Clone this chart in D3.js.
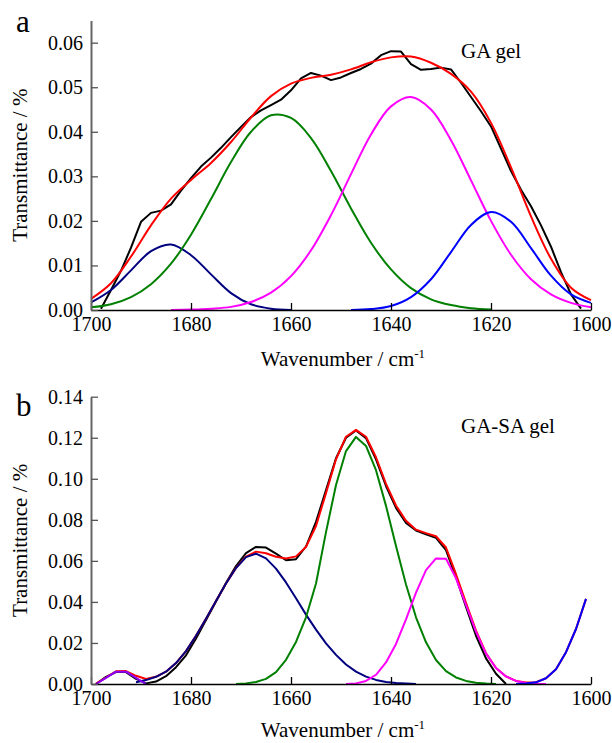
<!DOCTYPE html>
<html>
<head>
<meta charset="utf-8">
<script src="https://cdn.jsdelivr.net/npm/d3@7"></script>
<style>
    body { margin: 0; background: #fff; }
    svg text { font-family: "Liberation Serif", "DejaVu Serif", serif; fill: #000; }
    .line { fill: none; stroke-width: 2; stroke-linejoin: round; }
</style>
</head>
<body>
<svg id="chart" width="612" height="743"></svg>
<script>
// ---------- data ----------
const xTicks = [1700, 1680, 1660, 1640, 1620, 1600];
const yTicksA = [0, 0.01, 0.02, 0.03, 0.04, 0.05, 0.06];
const yTicksB = [0, 0.02, 0.04, 0.06, 0.08, 0.10, 0.12, 0.14];

// panel a: measured spectrum every 2 cm-1 (1698 -> 1602)
const waveA2 = d3.range(1698, 1601, -2);
const blackA = [0.0003, 0.0045, 0.0088, 0.0140, 0.0198, 0.0218, 0.0223, 0.0237, 0.0268, 0.0296,
    0.0322, 0.0342, 0.0364, 0.0388, 0.0411, 0.0433, 0.0448, 0.0460, 0.0472, 0.0493,
    0.0520, 0.0532, 0.0526, 0.0516, 0.0522, 0.0532, 0.0541, 0.0553, 0.0572, 0.0581,
    0.0580, 0.0552, 0.0539, 0.0541, 0.0544, 0.0540, 0.0510, 0.0478, 0.0446, 0.0412,
    0.0362, 0.0312, 0.0270, 0.0233, 0.0190, 0.0142, 0.0085, 0.0035, 0.0003];

// panel a: fitted curves every 4 cm-1 (1700 -> 1600)
const waveA4 = d3.range(1700, 1599, -4);
const redA = [0.0025, 0.0060, 0.0120, 0.0190, 0.0250, 0.0292, 0.0330, 0.0377, 0.0432, 0.0480,
    0.0508, 0.0521, 0.0528, 0.0540, 0.0556, 0.0567, 0.0569, 0.0555, 0.0530, 0.0490,
    0.0420, 0.0320, 0.0210, 0.0115, 0.0050, 0.0022];
const navyA = [0.0017, 0.0045, 0.0089, 0.0132, 0.0147, 0.0123, 0.0080, 0.0038, 0.0013, 0.0003,
    0, null, null, null, null, null, null, null, null, null,
    null, null, null, null, null, null];
const greenA = [0.0006, 0.0013, 0.0029, 0.0058, 0.0104, 0.0169, 0.0249, 0.0332, 0.0400, 0.0437,
    0.0431, 0.0386, 0.0312, 0.0228, 0.0151, 0.0091, 0.0049, 0.0024, 0.0011, 0.0004,
    0.0001, null, null, null, null, null];
const magentaA = [null, null, null, null, 0, 0.0001, 0.0003, 0.0007, 0.0018, 0.0039,
    0.0076, 0.0134, 0.0213, 0.0305, 0.0394, 0.0457, 0.0478, 0.0450, 0.0381, 0.0291,
    0.0200, 0.0124, 0.0069, 0.0035, 0.0016, 0.0006];
const blueA = [null, null, null, null, null, null, null, null, null, null,
    null, null, null, 0, 0.0002, 0.0009, 0.0029, 0.0069, 0.0130, 0.0191,
    0.0220, 0.0198, 0.0139, 0.0077, 0.0035, 0.0016];

// panel b: every 2 cm-1 (1699 -> 1601)
const waveB = d3.range(1699, 1600, -2);
const blackB = [0, 0.0035, 0.0058, 0.0058, 0.0025, 0.0003, 0.0012, 0.0038, 0.0082, 0.0140,
    0.0222, 0.0312, 0.0402, 0.0492, 0.0575, 0.0638, 0.0668, 0.0665, 0.0635, 0.0603,
    0.0608, 0.0670, 0.0790, 0.0945, 0.1100, 0.1200, 0.1235, 0.1198, 0.1095, 0.0965,
    0.0858, 0.0785, 0.0748, 0.0730, 0.0712, 0.0652, 0.0520, 0.0375, 0.0235, 0.0125,
    0.0050, 0, null, null, null, null, null, null, null, null];
const redB = [0.0002, 0.0031, 0.0062, 0.0063, 0.0040, 0.0024, 0.0035, 0.0060, 0.0102, 0.0160,
    0.0235, 0.0318, 0.0405, 0.0490, 0.0566, 0.0621, 0.0645, 0.0637, 0.0620, 0.0612,
    0.0622, 0.0668, 0.0770, 0.0930, 0.1095, 0.1205, 0.1238, 0.1205, 0.1105, 0.0975,
    0.0870, 0.0795, 0.0752, 0.0735, 0.0720, 0.0665, 0.0535, 0.0395, 0.0260, 0.0150,
    0.0078, 0.0037, 0.0015, 0.0007, 0.0009, 0.0028, 0.0072, 0.0155, 0.0268, 0.0415];
const violetB = [0, 0.0030, 0.0060, 0.0060, 0.0030, 0, null, null, null, null,
    null, null, null, null, null, null, null, null, null, null,
    null, null, null, null, null, null, null, null, null, null,
    null, null, null, null, null, null, null, null, null, null,
    null, null, null, null, null, null, null, null, null, null];
const navyB = [null, null, null, null, 0.0009, 0.0019, 0.0035, 0.0060, 0.0102, 0.0160,
    0.0235, 0.0318, 0.0405, 0.0490, 0.0565, 0.0618, 0.0635, 0.0612, 0.0562, 0.0495,
    0.0418, 0.0338, 0.0265, 0.0198, 0.0142, 0.0095, 0.0060, 0.0036, 0.0020, 0.0010,
    0.0005, 0.0002, 0, null, null, null, null, null, null, null,
    null, null, null, null, null, null, null, null, null, null];
const greenB = [null, null, null, null, null, null, null, null, null, null,
    null, null, null, null, 0, 0.0003, 0.0010, 0.0025, 0.0058, 0.0118,
    0.0205, 0.0325, 0.0490, 0.0740, 0.0970, 0.1135, 0.1204, 0.1160, 0.1042, 0.0868,
    0.0673, 0.0485, 0.0325, 0.0203, 0.0117, 0.0063, 0.0032, 0.0015, 0.0006, 0.0002,
    0, null, null, null, null, null, null, null, null, null];
const magentaB = [null, null, null, null, null, null, null, null, null, null,
    null, null, null, null, null, null, null, null, null, null,
    null, null, null, null, null, 0, 0.0003, 0.0015, 0.0045, 0.0105,
    0.0195, 0.0315, 0.0445, 0.0555, 0.0612, 0.0610, 0.0515, 0.0385, 0.0255, 0.0148,
    0.0078, 0.0037, 0.0015, 0.0005, 0.0001, 0, null, null, null, null];
const blueB = [null, null, null, null, null, null, null, null, null, null,
    null, null, null, null, null, null, null, null, null, null,
    null, null, null, null, null, null, null, null, null, null,
    null, null, null, null, null, null, null, null, null, null,
    null, null, 0, 0.0002, 0.0008, 0.0028, 0.0072, 0.0155, 0.0268, 0.0415];

// ---------- layout ----------
const svg = d3.select("#chart");
const xRange = [91, 591];
const serif = "'Liberation Serif', 'DejaVu Serif', serif";

// pairs a wavenumber array with a value array
function pairUp(xs, ys) {
    return xs.map((x, i) => ({ x: x, y: ys[i] }));
}

// draws one panel: lines first, axes on top
function drawPanel(p) {
    let xScale = d3.scaleLinear().domain([1700, 1600]).range(xRange);
    let yScale = d3.scaleLinear().domain([0, p.yMax]).range([p.bottom, p.top]);

    let g = svg.append("g").attr("class", "panel");

    p.series.forEach((s) => {
        let line = d3.line()
            .defined((d) => d.y != null)
            .curve(s.curve || d3.curveLinear)
            .x((d) => xScale(d.x))
            .y((d) => yScale(d.y));
        g.append("path")
            .attr("class", "line")
            .attr("d", line(pairUp(s.x, s.y)))
            .style("stroke", s.color);
    });

    // x axis, ticks pointing inwards
    let xAxis = d3.axisBottom(xScale)
        .tickValues(xTicks)
        .tickFormat(d3.format("d"))
        .tickSizeInner(-7)
        .tickSizeOuter(0)
        .tickPadding(7);
    let gx = g.append("g")
        .attr("transform", "translate(0," + p.bottom + ")")
        .call(xAxis)
        .attr("font-family", serif);
    gx.select(".domain").attr("stroke", "#000").attr("stroke-width", 1.5);
    gx.selectAll(".tick line").attr("stroke", "#000").attr("stroke-width", 1.3);
    gx.selectAll(".tick text")
        .style("font-size", "20px")
        .style("font-family", serif);

    // y axis, grey line, ticks inwards
    let yAxis = d3.axisLeft(yScale)
        .tickValues(p.yTicks)
        .tickFormat(d3.format(".2f"))
        .tickSizeInner(-7)
        .tickSizeOuter(0)
        .tickPadding(8);
    let gy = g.append("g")
        .attr("transform", "translate(" + xRange[0] + ",0)")
        .call(yAxis)
        .attr("font-family", serif);
    gy.select(".domain").attr("stroke", "#666").attr("stroke-width", 2);
    gy.selectAll(".tick line").attr("stroke", "#555").attr("stroke-width", 1.3);
    gy.selectAll(".tick text")
        .style("font-size", "20px")
        .style("font-family", serif);

    // axis titles
    let xt = g.append("text")
        .attr("x", (xRange[0] + xRange[1]) / 2 + 2)
        .attr("y", p.titleY)
        .attr("text-anchor", "middle")
        .style("font-size", "21px")
        .style("font-family", serif)
        .text("Wavenumber / cm");
    xt.append("tspan")
        .attr("dy", "-8")
        .style("font-size", "13px")
        .text("-1");

    g.append("text")
        .attr("transform", "translate(27," + (p.top + p.bottom) / 2 + ") rotate(-90)")
        .attr("text-anchor", "middle")
        .style("font-size", "21px")
        .style("font-family", serif)
        .text("Transmittance / %");

    // panel letter and sample name
    g.append("text")
        .attr("x", 16)
        .attr("y", p.letterY)
        .style("font-size", "31px")
        .style("font-family", serif)
        .text(p.letter);
    g.append("text")
        .attr("x", 461)
        .attr("y", p.nameY)
        .style("font-size", "21px")
        .style("font-family", serif)
        .text(p.name);
}

drawPanel({
    top: 20.4, bottom: 310, yMax: 0.065, yTicks: yTicksA, titleY: 366,
    letter: "a", letterY: 32, name: "GA gel", nameY: 58,
    series: [
        { x: waveA2, y: blackA, color: "#000000" },
        { x: waveA4, y: redA, color: "#ff0000", curve: d3.curveCatmullRom },
        { x: waveA4, y: navyA, color: "#000080", curve: d3.curveCatmullRom },
        { x: waveA4, y: greenA, color: "#008000", curve: d3.curveCatmullRom },
        { x: waveA4, y: magentaA, color: "#ff00ff", curve: d3.curveCatmullRom },
        { x: waveA4, y: blueA, color: "#0000ff", curve: d3.curveCatmullRom }
    ]
});

drawPanel({
    top: 396.7, bottom: 684, yMax: 0.14, yTicks: yTicksB, titleY: 737,
    letter: "b", letterY: 416, name: "GA-SA gel", nameY: 433,
    series: [
        { x: waveB, y: blackB, color: "#000000" },
        { x: waveB, y: redB, color: "#ff0000" },
        { x: waveB, y: navyB, color: "#000080" },
        { x: waveB, y: greenB, color: "#008000" },
        { x: waveB, y: magentaB, color: "#ff00ff" },
        { x: waveB, y: blueB, color: "#0000ff" },
        { x: waveB, y: violetB, color: "#8b00ff" }
    ]
});
</script>
</body>
</html>
